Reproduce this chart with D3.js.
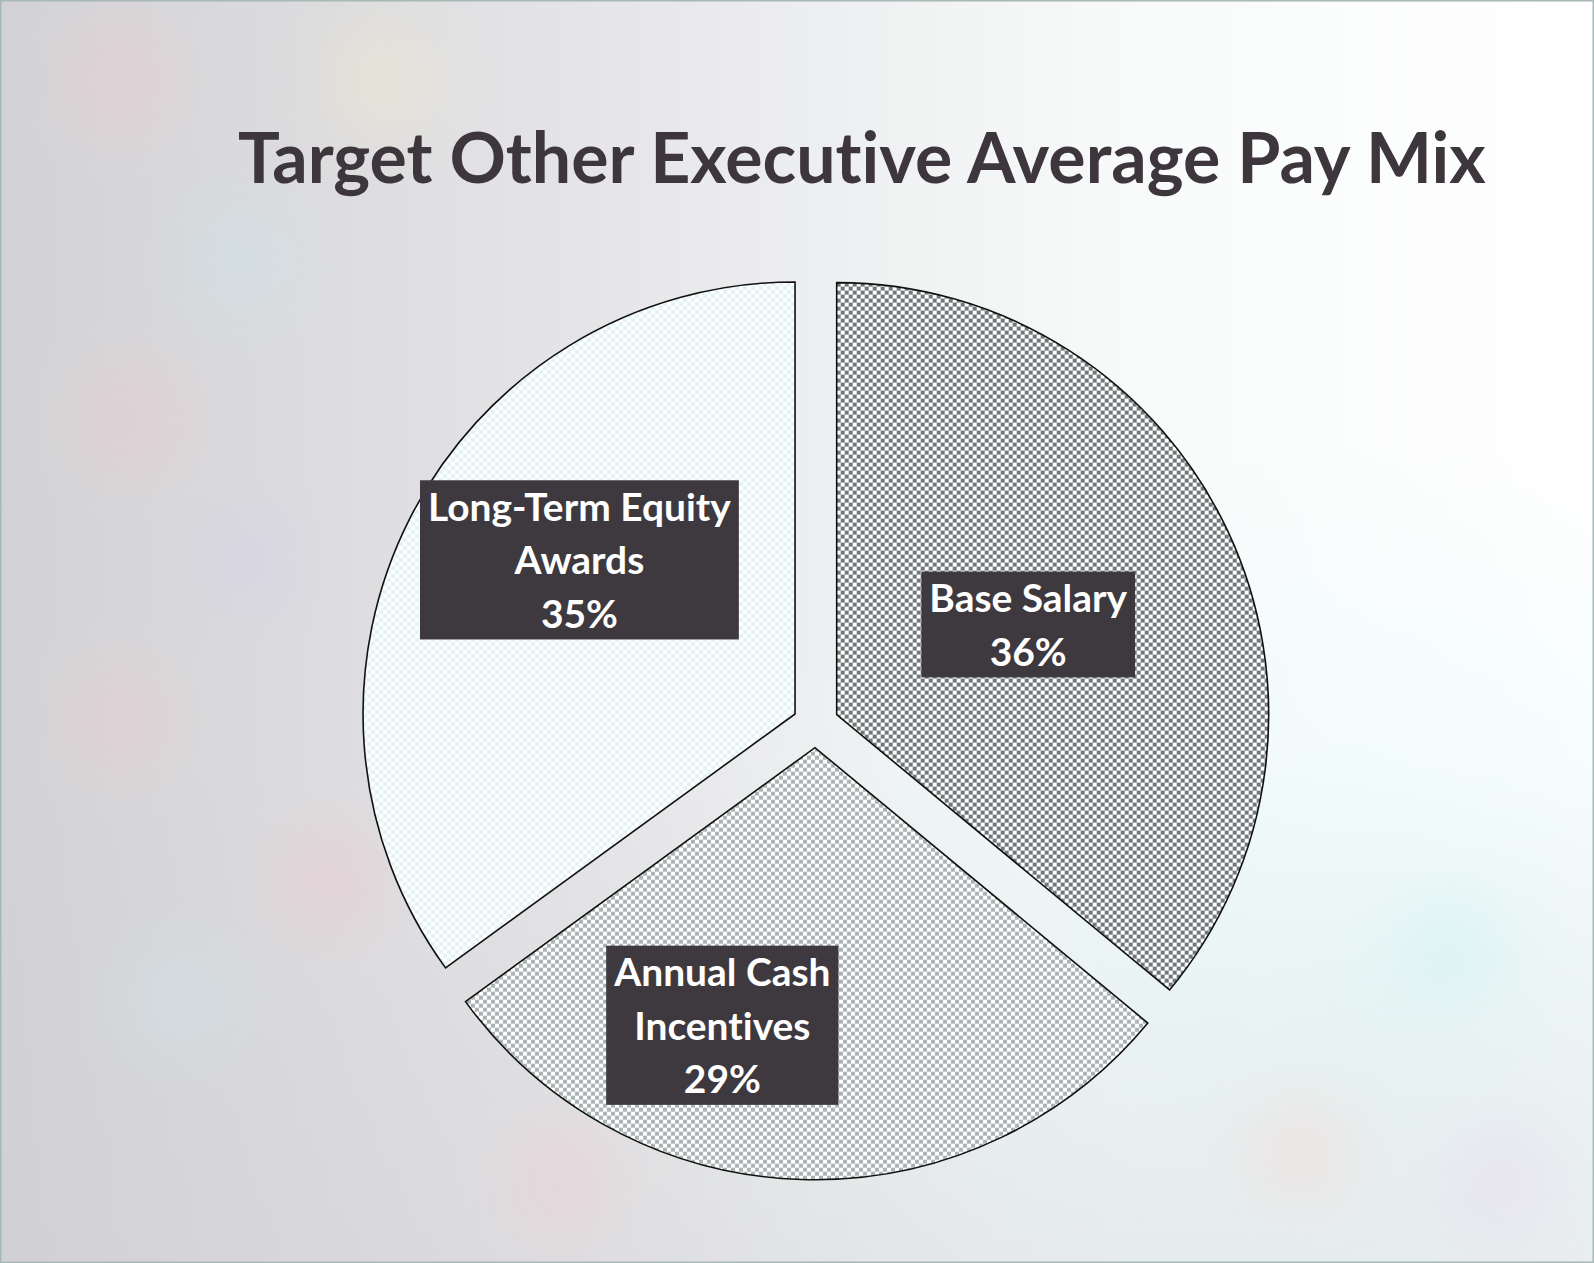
<!DOCTYPE html>
<html>
<head>
<meta charset="utf-8">
<script src="https://cdn.jsdelivr.net/npm/d3@7"></script>
<style>
  body { margin: 0; background: #fff; }
  svg { display: block; }
  text { font-family: Lato, "Open Sans", sans-serif; font-weight: 700; font-variant-ligatures: none; font-feature-settings: "liga" 0; }
</style>
</head>
<body>
<script>
const width = 1594;
const height = 1263;

// chart data
const categories = ["Base Salary", "Annual Cash Incentives", "Long-Term Equity Awards"];
const values = [36, 29, 35];
const labelLines = [["Base Salary"], ["Annual Cash", "Incentives"], ["Long-Term Equity", "Awards"]];
const title = "Target Other Executive Average Pay Mix";

// layout
const cx = 815.7, cy = 724.5, radius = 432, explode = 23.2;
const labelNudge = [[0, 0], [-86, 66], [-27, -58]];
const patterns = [
  { id: "chkDark", color: "#6f7778" },
  { id: "chkMid", color: "#abb4b4" },
  { id: "chkLight", color: "#e4f3f3" }
];

const svg = d3.select("body").append("svg")
  .attr("width", width)
  .attr("height", height);

const defs = svg.append("defs");

const bg = defs.append("linearGradient").attr("id", "bg")
  .attr("x1", "0").attr("y1", "0").attr("x2", "1").attr("y2", "0");
bg.append("stop").attr("offset", "0").attr("stop-color", "#d2d2d4");
bg.append("stop").attr("offset", "0.35").attr("stop-color", "#e4e4e6");
bg.append("stop").attr("offset", "0.7").attr("stop-color", "#f8fafa");
bg.append("stop").attr("offset", "1").attr("stop-color", "#ffffff");

const glow = defs.append("radialGradient").attr("id", "glow")
  .attr("cx", "0.85").attr("cy", "0.8").attr("r", "0.45");
glow.append("stop").attr("offset", "0").attr("stop-color", "#eafafa").attr("stop-opacity", 0.9);
glow.append("stop").attr("offset", "1").attr("stop-color", "#eafafa").attr("stop-opacity", 0);

const shade = defs.append("linearGradient").attr("id", "shade")
  .attr("x1", "0").attr("y1", "0").attr("x2", "0").attr("y2", "1");
shade.append("stop").attr("offset", "0.6").attr("stop-color", "#cfcfd2").attr("stop-opacity", 0);
shade.append("stop").attr("offset", "1").attr("stop-color", "#cfcfd2").attr("stop-opacity", 0.35);

defs.append("filter").attr("id", "blur").append("feGaussianBlur").attr("stdDeviation", 28);

patterns.forEach(p => {
  const pat = defs.append("pattern").attr("id", p.id)
    .attr("width", 8).attr("height", 8)
    .attr("patternUnits", "userSpaceOnUse");
  pat.append("rect").attr("width", 8).attr("height", 8).attr("fill", "#ffffff");
  pat.append("rect").attr("width", 4).attr("height", 4).attr("fill", p.color);
  pat.append("rect").attr("x", 4).attr("y", 4).attr("width", 4).attr("height", 4).attr("fill", p.color);
});

// background
svg.append("rect").attr("width", width).attr("height", height).attr("fill", "url(#bg)");
svg.append("rect").attr("width", width).attr("height", height).attr("fill", "url(#glow)");
svg.append("rect").attr("width", width).attr("height", height).attr("fill", "url(#shade)");

// faint pastel blotches
const blobs = svg.append("g").attr("filter", "url(#blur)").attr("opacity", 0.35);
[[120, 80, "#f3c9d2"], [240, 260, "#c9e6ee"], [130, 420, "#f0c6cc"], [250, 560, "#d6cdec"],
 [120, 720, "#efc9cf"], [330, 880, "#f2c5cc"], [180, 1000, "#cfe6ef"], [560, 1180, "#f3cbd0"],
 [1450, 950, "#c6f1f1"], [1300, 1150, "#f5d5d0"], [380, 80, "#f3e9c6"], [1500, 1180, "#e8d6f1"]]
  .forEach(b => blobs.append("circle").attr("cx", b[0]).attr("cy", b[1]).attr("r", 55).attr("fill", b[2]));

svg.append("rect").attr("x", 0.75).attr("y", 0.75)
  .attr("width", width - 1.5).attr("height", height - 1.5)
  .attr("fill", "none").attr("stroke", "#a8b8b6").attr("stroke-width", 1.5);

// title
const titleText = svg.append("text")
  .attr("x", 238).attr("y", 183)
  .attr("fill", "#3d363c")
  .style("font-size", "60px")
  .text(title);
const tw = titleText.node().getComputedTextLength();
titleText.style("font-size", (60 * 1248 / tw) + "px");

// pie
const pie = d3.pie().sort(null).value(d => d);
const arcs = pie(values);
const arc = d3.arc().innerRadius(0).outerRadius(radius);
const labelArc = d3.arc().innerRadius(radius * 0.49).outerRadius(radius * 0.49);

const offset = d => {
  const a = (d.startAngle + d.endAngle) / 2;
  return [explode * Math.sin(a), -explode * Math.cos(a)];
};

const slices = svg.append("g").attr("transform", `translate(${cx},${cy})`);

slices.selectAll("path.slice")
  .data(arcs)
  .enter().append("path")
  .attr("class", "slice")
  .attr("transform", d => `translate(${offset(d)})`)
  .attr("d", arc)
  .attr("fill", (d, i) => `url(#${patterns[i].id})`)
  .attr("stroke", "#111")
  .attr("stroke-width", 1.6)
  .attr("stroke-linejoin", "miter");

// labels
const lineH = 53.4;
const labels = slices.selectAll("g.label")
  .data(arcs)
  .enter().append("g")
  .attr("class", "label")
  .attr("transform", (d, i) => {
    const o = offset(d);
    const c = labelArc.centroid(d);
    return `translate(${o[0] + c[0] + labelNudge[i][0]},${o[1] + c[1] + labelNudge[i][1]})`;
  });

labels.append("rect").attr("fill", "#3e393f");

labels.each(function (d, i) {
  const g = d3.select(this);
  const lines = labelLines[i].concat([d3.format(".0%")(values[i] / 100)]);
  const n = lines.length;
  const t = g.append("text")
    .attr("text-anchor", "middle")
    .attr("fill", "#ffffff")
    .style("font-size", "42px");
  lines.forEach((ln, k) => {
    t.append("tspan")
      .attr("x", 0)
      .attr("y", (k - (n - 1) / 2) * lineH + 14.5)
      .text(ln);
  });
});

// fit label font so "Long-Term Equity" is ~303px wide
let ref = null;
labels.selectAll("tspan").each(function () {
  if (this.textContent === "Long-Term Equity") ref = this;
});
const fs = ref ? 42 * 303 / ref.getComputedTextLength() : 42;
labels.selectAll("text").style("font-size", fs + "px");

labels.each(function (d, i) {
  const g = d3.select(this);
  const n = labelLines[i].length + 1;
  let w = 0;
  g.selectAll("tspan").each(function () { w = Math.max(w, this.getComputedTextLength()); });
  const bw = Math.max(w + 16, 200), bh = n * lineH - 1;
  g.select("rect")
    .attr("x", -bw / 2).attr("y", -bh / 2)
    .attr("width", bw).attr("height", bh);
});
</script>
</body>
</html>
